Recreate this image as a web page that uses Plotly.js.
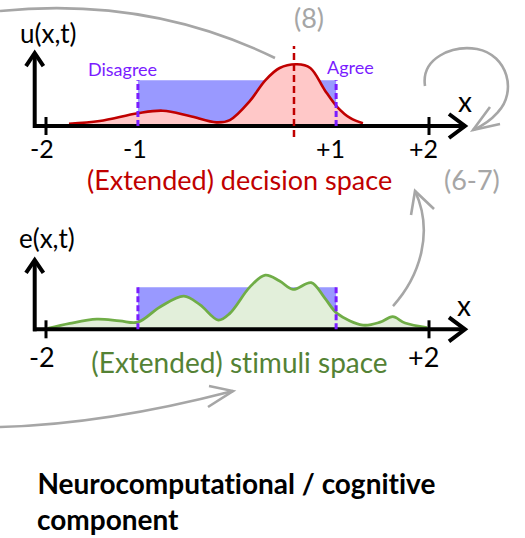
<!DOCTYPE html>
<html><head><meta charset="utf-8">
<script src="https://cdn.plot.ly/plotly-3.0.1.min.js"></script>
<style>html,body{margin:0;padding:0;background:#fff}#chart{width:525px;height:538px}#chart text{font-variant-ligatures:none;font-feature-settings:"liga" 0,"clig" 0}</style>
</head><body><div id="chart"></div>
<script>
// ---- data ----
const decisionX = [-1.76,-1.44,-1.04,-0.78,-0.50,-0.22,-0.08,0.13,0.29,0.44,0.62,0.76,0.91,1.04,1.18,1.31];
const decisionU = [0.05,0.11,0.28,0.335,0.22,0.08,0.13,0.55,1.00,1.27,1.35,1.27,0.79,0.42,0.17,0.06];
const stimuliX = [-1.98,-1.75,-1.47,-1.23,-1.04,-0.81,-0.56,-0.39,-0.20,-0.08,0.13,0.29,0.44,0.58,0.77,0.91,1.04,1.31,1.49,1.62,1.75,1.98];
const stimuliE = [0.02,0.14,0.24,0.20,0.17,0.53,0.79,0.58,0.22,0.38,1.01,1.29,1.15,0.95,1.11,0.75,0.38,0.10,0.17,0.30,0.15,0.04];
const bandX = [-1.04, 1.03];       // Disagree / Agree bounds
const bandTop = 1;
const decisionMode = 0.59;          // red dashed marker
const topTickVals = [-2, -1, 1, 2];
const topTickText = ['-2', '-1', '+1', '+2'];
const botTickVals = [-2, 2];
const botTickText = ['-2', '+2'];

// ---- helpers ----
const W = 525, H = 538;
const FONT = 'Lato, "Open Sans", sans-serif';
const P = (px, py) => (px / W).toFixed(4) + ',' + (1 - py / H).toFixed(4);
const path = pts => 'M' + pts.map(p => P(p[0], p[1])).join(' L');
const curve = (s, c) => 'M' + P(s[0], s[1]) + c.map(seg => ' C' + seg.map(p => P(p[0], p[1])).join(' ')).join('');
const GRAY = '#a6a6a6', RED = '#c00000', GREEN = '#548235', PURPLE = '#7a1cff';

const rectTrace = (xa, ya) => ({
  x: [bandX[0], bandX[0], bandX[1], bandX[1], bandX[0]], y: [0, bandTop, bandTop, 0, 0],
  xaxis: xa, yaxis: ya, mode: 'none', fill: 'toself', fillcolor: '#9999ff', hoverinfo: 'skip', showlegend: false
});

const data = [
  rectTrace('x', 'y'),
  { x: decisionX, y: decisionU, xaxis: 'x', yaxis: 'y', mode: 'lines', line: { color: RED, width: 2.6, shape: 'spline', smoothing: 1 },
    fill: 'tozeroy', fillcolor: '#ffc8c8', showlegend: false },
  rectTrace('x2', 'y2'),
  { x: stimuliX, y: stimuliE, xaxis: 'x2', yaxis: 'y2', mode: 'lines', line: { color: '#70ad47', width: 2.8, shape: 'spline', smoothing: 1 },
    fill: 'tozeroy', fillcolor: '#e2efda', showlegend: false }
];

const shapes = [];
const line = (pts, color, width) => shapes.push({ type: 'path', xref: 'paper', yref: 'paper', path: path(pts), line: { color, width }, layer: 'above' });
// axes (top panel: baseline py 126; bottom: py 329.3)
[[126, 53], [329.3, 260]].forEach(([by, ty]) => {
  line([[33, by], [463, by]], '#000', 4);
  line([[449, by - 12], [465, by], [449, by + 12]], '#000', 4);
  line([[34.7, by + 2], [34.7, ty + 1]], '#000', 4);
  line([[26, ty + 13], [34.7, ty], [43.4, ty + 13]], '#000', 4);
});
// ticks
[['x', 'y', 126], ['x2', 'y2', 329.3]].forEach(([xa, ya, by]) => {
  [-2, 2].forEach(v => shapes.push({ type: 'line', xref: xa, yref: 'paper', x0: v, x1: v, y0: 1 - (by - 9) / H, y1: 1 - (by + 9) / H, line: { color: '#000', width: 3 }, layer: 'above' }));
});
// band dashed bounds
[['x', 'y'], ['x2', 'y2']].forEach(([xa, ya]) => bandX.forEach(v => shapes.push({
  type: 'line', xref: xa, yref: ya, x0: v, x1: v, y0: 0, y1: bandTop, line: { color: PURPLE, width: 3, dash: '6px,3px' }, layer: 'above' })));
// red dashed
shapes.push({ type: 'line', xref: 'x', yref: 'y', x0: decisionMode, x1: decisionMode, y0: -0.24, y1: 1.75, line: { color: RED, width: 2.5, dash: '7px,4px' }, layer: 'above' });
// gray arrows
const gpath = (p) => shapes.push({ type: 'path', xref: 'paper', yref: 'paper', path: p, line: { color: GRAY, width: 2.6 }, layer: 'above' });
gpath(curve([0, 11], [[[90, 2], [185, 14], [275, 58]]]));
gpath(curve([425, 86], [[[421, 58], [452, 45], [477, 49]], [[508, 55], [517, 92], [498, 112]], [[490, 121], [482, 126], [473, 130]]]));
gpath(path([[490, 107], [473, 130], [500, 124]]));
gpath(curve([393, 306], [[[420, 276], [434, 232], [415, 191]]]));
gpath(path([[411, 215], [415, 191], [434, 209]]));
gpath(curve([0, 427], [[[80, 425], [160, 410], [233, 391]]]));
gpath(path([[208, 407], [233, 391], [209, 386]]));

const ann = [];
const txt = (text, px, py, size, color, extra) => ann.push(Object.assign({ text, xref: 'paper', yref: 'paper', x: px / W, y: 1 - py / H,
  xanchor: 'center', yanchor: 'middle', showarrow: false, font: { family: FONT, size, color } }, extra || {}));
txt('u(x,t)', 48, 33, 26, '#000');
txt('e(x,t)', 47, 238, 26, '#000');
txt('(8)', 309, 17, 27, GRAY);
txt('Disagree', 122, 69, 18, PURPLE);
txt('Agree', 350, 67, 18, PURPLE);
txt('x', 465, 101, 28, '#000');
txt('x', 464, 305, 28, '#000');
txt('(Extended) decision space', 239, 179.5, 27, RED);
txt('(6-7)', 472, 179, 27, GRAY);
txt('(Extended) stimuli space', 239, 362, 28, GREEN);
const topLblPx = [42, 135, 330, 423];
topTickVals.forEach((v, i) => ann.push({ text: topTickText[i], xref: 'x', yref: 'paper', x: v, xshift: topLblPx[i] - (46 + (v + 2) * 95.75), y: 1 - 148 / H,
  xanchor: 'center', yanchor: 'middle', showarrow: false, font: { family: FONT, size: 25, color: '#000' } }));
botTickVals.forEach((v, i) => ann.push({ text: botTickText[i], xref: 'x2', yref: 'paper', x: v, xshift: v < 0 ? -4.5 : -6, y: 1 - 356 / H,
  xanchor: 'center', yanchor: 'middle', showarrow: false, font: { family: FONT, size: 27, color: '#000' } }));
txt('<b>Neurocomputational / cognitive</b>', 35, 483, 28, '#000', { xanchor: 'left' });
txt('<b>component</b>', 35, 519, 28, '#000', { xanchor: 'left' });

const xr = [-2 - 46 / 95.75, -2 + 479 / 95.75];
const layout = {
  width: W, height: H, margin: { l: 0, r: 0, t: 0, b: 0 }, paper_bgcolor: '#fff', plot_bgcolor: 'rgba(0,0,0,0)',
  showlegend: false,
  xaxis: { range: xr, visible: false, domain: [0, 1], anchor: 'y', fixedrange: true },
  yaxis: { range: [(126 - 200) / 45.7, 126 / 45.7], visible: false, domain: [1 - 200 / H, 1], anchor: 'x', fixedrange: true },
  xaxis2: { range: xr, visible: false, domain: [0, 1], anchor: 'y2', fixedrange: true },
  yaxis2: { range: [(329.3 - 450) / 42, (329.3 - 200) / 42], visible: false, domain: [1 - 450 / H, 1 - 200 / H], anchor: 'x2', fixedrange: true },
  shapes, annotations: ann
};
Plotly.newPlot('chart', data, layout, { staticPlot: true, displayModeBar: false });
</script></body></html>
